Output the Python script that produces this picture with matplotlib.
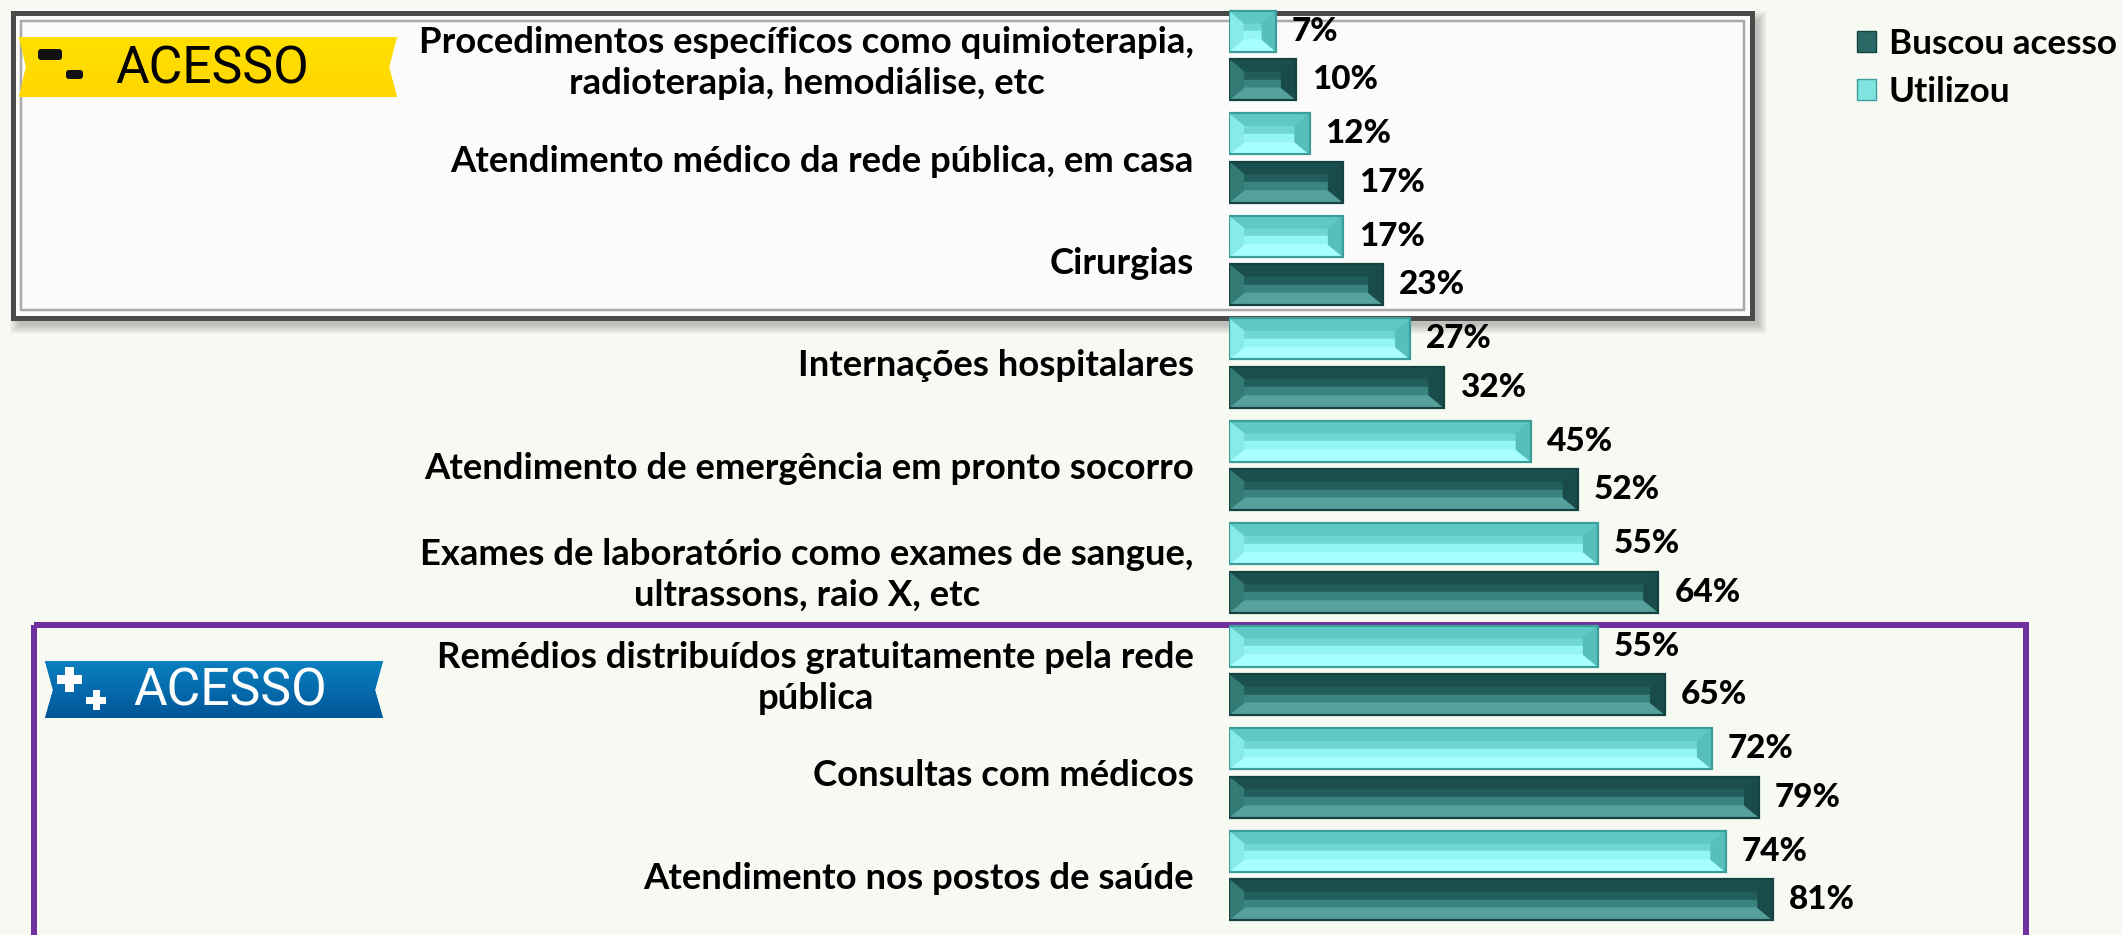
import matplotlib
matplotlib.use("Agg")
import matplotlib.pyplot as plt
import numpy as np
from matplotlib.patches import Polygon, Rectangle, FancyBboxPatch, Patch

# ---------------- data ----------------
categories = [
    "Procedimentos específicos como quimioterapia,\nradioterapia, hemodiálise, etc",
    "Atendimento médico da rede pública, em casa",
    "Cirurgias",
    "Internações hospitalares",
    "Atendimento de emergência em pronto socorro",
    "Exames de laboratório como exames de sangue,\nultrassons, raio X, etc",
    "Remédios distribuídos gratuitamente pela rede\npública",
    "Consultas com médicos",
    "Atendimento nos postos de saúde",
]
utilizou = [7, 12, 17, 27, 45, 55, 55, 72, 74]
buscou = [10, 17, 23, 32, 52, 64, 65, 79, 81]
series_names = ["Buscou acesso", "Utilizou"]
badge_text = "ACESSO"

# ---------------- figure ----------------
W, H, DPI = 2123, 935, 100
fig = plt.figure(figsize=(W / DPI, H / DPI), dpi=DPI)
BG = "#f6faf3"
fig.patch.set_facecolor(BG)
renderer = fig.canvas.get_renderer()

LABEL_FONT = ["Lato", "DejaVu Sans"]
BADGE_FONT = ["Roboto", "DejaVu Sans"]
VAL_WEIGHT = 900


def fit_size(text, target_px, family, weight, base=20.0):
    t = fig.text(0, 0, text, fontsize=base, family=family, weight=weight)
    w = t.get_window_extent(renderer).width
    t.remove()
    return base * target_px / w


cat_fs = fit_size("Atendimento médico da rede pública, em casa", 745, LABEL_FONT, "bold")
val_fs = fit_size("10%", 66, LABEL_FONT, VAL_WEIGHT)
leg_fs = fit_size("Buscou acesso", 228, LABEL_FONT, "bold")
badge_fs = fit_size(badge_text, 194, BADGE_FONT, "normal")

# ---------------- decoration layer (pixel coords) ----------------
deco = fig.add_axes([0, 0, 1, 1], zorder=-1)
deco.set_xlim(0, W)
deco.set_ylim(H, 0)
deco.axis("off")
PX = 0.72  # points per pixel

# gray box with soft shadow
for k in range(10):
    e = k * 1.0
    deco.add_patch(Rectangle((13 + 6 - e, 13 + 7 - e), 1739 + 2 * e, 305 + 2 * e,
                             facecolor="k", alpha=0.022, edgecolor="none"))
deco.add_patch(Rectangle((13, 13), 1739, 305, facecolor="#fbfbfb",
                         edgecolor="#4a4a4a", lw=5 * PX))
deco.add_patch(Rectangle((21, 21), 1723, 289, fill=False,
                         edgecolor="#a9a9a9", lw=2.5 * PX))

# purple box
deco.add_patch(Rectangle((34, 625), 1992, 400, fill=False,
                         edgecolor="#7030a0", lw=6 * PX))

# yellow banner
yel = Polygon([(19, 37), (397, 37), (389, 67), (397, 97), (19, 97), (26, 67)],
              closed=True, facecolor="#ffdb00", edgecolor="none")
deco.add_patch(yel)
grad_y = np.linspace(0, 1, 64).reshape(-1, 1)
im = deco.imshow(np.dstack([np.ones_like(grad_y), 0.88 - 0.04 * grad_y,
                            np.zeros_like(grad_y)]),
                 extent=[19, 397, 97, 37], aspect="auto", zorder=1)
im.set_clip_path(yel)
deco.add_patch(FancyBboxPatch((38, 49), 24, 11, boxstyle="round,pad=0,rounding_size=3",
                              facecolor="#111111", edgecolor="none", zorder=3))
deco.add_patch(FancyBboxPatch((66, 70), 17, 9, boxstyle="round,pad=0,rounding_size=3",
                              facecolor="#111111", edgecolor="none", zorder=3))
deco.text(115, 83, badge_text, family=BADGE_FONT, fontsize=badge_fs,
          color="black", ha="left", va="baseline", zorder=3)

# blue banner
blue = Polygon([(45, 661), (383, 661), (375, 690), (383, 718), (45, 718), (53, 690)],
               closed=True, facecolor="#0868a8", edgecolor="none")
deco.add_patch(blue)
top_c = np.array([0.04, 0.50, 0.75])
bot_c = np.array([0.00, 0.34, 0.60])
g = np.linspace(0, 1, 64).reshape(-1, 1, 1)
grad = top_c * (1 - g) + bot_c * g
im2 = deco.imshow(grad, extent=[45, 383, 718, 661], aspect="auto", zorder=1)
im2.set_clip_path(blue)


def plus(cx, cy, size, th):
    deco.add_patch(Rectangle((cx - size / 2, cy - th / 2), size, th,
                             facecolor="white", edgecolor="none", zorder=3))
    deco.add_patch(Rectangle((cx - th / 2, cy - size / 2), th, size,
                             facecolor="white", edgecolor="none", zorder=3))


plus(69, 679, 25, 9)
plus(96, 700, 20, 7)
deco.text(133, 705, badge_text, family=BADGE_FONT, fontsize=badge_fs,
          color="white", ha="left", va="baseline", zorder=3)

# ---------------- chart axes ----------------
PX_PER_PCT = 6.71
X0 = 1229
SPACING = 102.5
C0 = 55.5
n = len(categories)
top_px = C0 - SPACING / 2
bot_px = C0 + (n - 1) * SPACING + SPACING / 2
ax = fig.add_axes([X0 / W, (H - bot_px) / H, 100 * PX_PER_PCT / W, (bot_px - top_px) / H],
                  zorder=1)
ax.patch.set_visible(False)
ax.set_xlim(0, 100)
ax.set_ylim(n - 0.5, -0.5)
for s in ax.spines.values():
    s.set_visible(False)
ax.set_xticks([])

y = np.arange(n)
bh = 0.40
off = 0.235

U = dict(edge="#3c9e9b", face="#6fd7d3", lower="#93f6f4", top="#5ec8c4",
         bottom="#a8ffff", left="#88ebe8", right="#56bfbb")
B = dict(edge="#154341", face="#215e5b", lower="#3a847f", top="#1a4f4d",
         bottom="#56a19b", left="#347b76", right="#184b49")

bars_u = ax.barh(y - off, utilizou, height=bh, color=U["face"], edgecolor="none")
bars_b = ax.barh(y + off, buscou, height=bh, color=B["face"], edgecolor="none")

DY = 0.12
DXP = 15 / PX_PER_PCT


def bevel(rect, c):
    x0, w = rect.get_x(), rect.get_width()
    y0, h = rect.get_y(), rect.get_height()
    dx = min(DXP, w * 0.3)
    x1, y1 = x0 + w, y0 + h
    ym = y0 + h / 2
    polys = [
        ([(x0 + dx, ym), (x1 - dx, ym), (x1 - dx, y1 - DY), (x0 + dx, y1 - DY)], c["lower"]),
        ([(x0, y0), (x1, y0), (x1 - dx, y0 + DY), (x0 + dx, y0 + DY)], c["top"]),
        ([(x0, y1), (x1, y1), (x1 - dx, y1 - DY), (x0 + dx, y1 - DY)], c["bottom"]),
        ([(x0, y0), (x0 + dx, y0 + DY), (x0 + dx, y1 - DY), (x0, y1)], c["left"]),
        ([(x1, y0), (x1 - dx, y0 + DY), (x1 - dx, y1 - DY), (x1, y1)], c["right"]),
    ]
    for pts, col in polys:
        ax.add_patch(Polygon(pts, closed=True, facecolor=col, edgecolor=col, lw=0.3))
    ax.add_patch(Rectangle((x0, y0), w, h, fill=False, edgecolor=c["edge"], lw=1.6))


for r in bars_u:
    bevel(r, U)
for r in bars_b:
    bevel(r, B)

# value labels
for bars, vals in ((bars_u, utilizou), (bars_b, buscou)):
    for r, v in zip(bars, vals):
        ax.annotate(f"{v}%", xy=(r.get_width(), r.get_y() + r.get_height() / 2),
                    xytext=(16 * PX, 0), textcoords="offset points",
                    ha="left", va="center", fontsize=val_fs, fontweight=VAL_WEIGHT,
                    family=LABEL_FONT, color="black")

# category labels
ax.set_yticks(y)
ax.set_yticklabels(categories, fontsize=cat_fs, fontweight="bold", family=LABEL_FONT)
for lbl in ax.get_yticklabels():
    lbl.set_multialignment("center")
    lbl.set_linespacing(1.3)
ax.tick_params(axis="y", length=0, pad=35 * PX)

# legend
handles = [Patch(facecolor="#2a6a66", edgecolor=B["edge"]),
           Patch(facecolor="#7fe3e0", edgecolor=U["edge"])]
fig.legend(handles, series_names, loc="upper left",
           bbox_to_anchor=(1857 / W, 1 - 28 / H), frameon=False,
           borderpad=0, borderaxespad=0, handlelength=0.55, handleheight=0.55,
           handletextpad=0.35, labelspacing=0.45,
           prop=dict(family=LABEL_FONT, weight="bold", size=leg_fs))

fig.savefig("out.png", dpi=DPI, facecolor=BG)
